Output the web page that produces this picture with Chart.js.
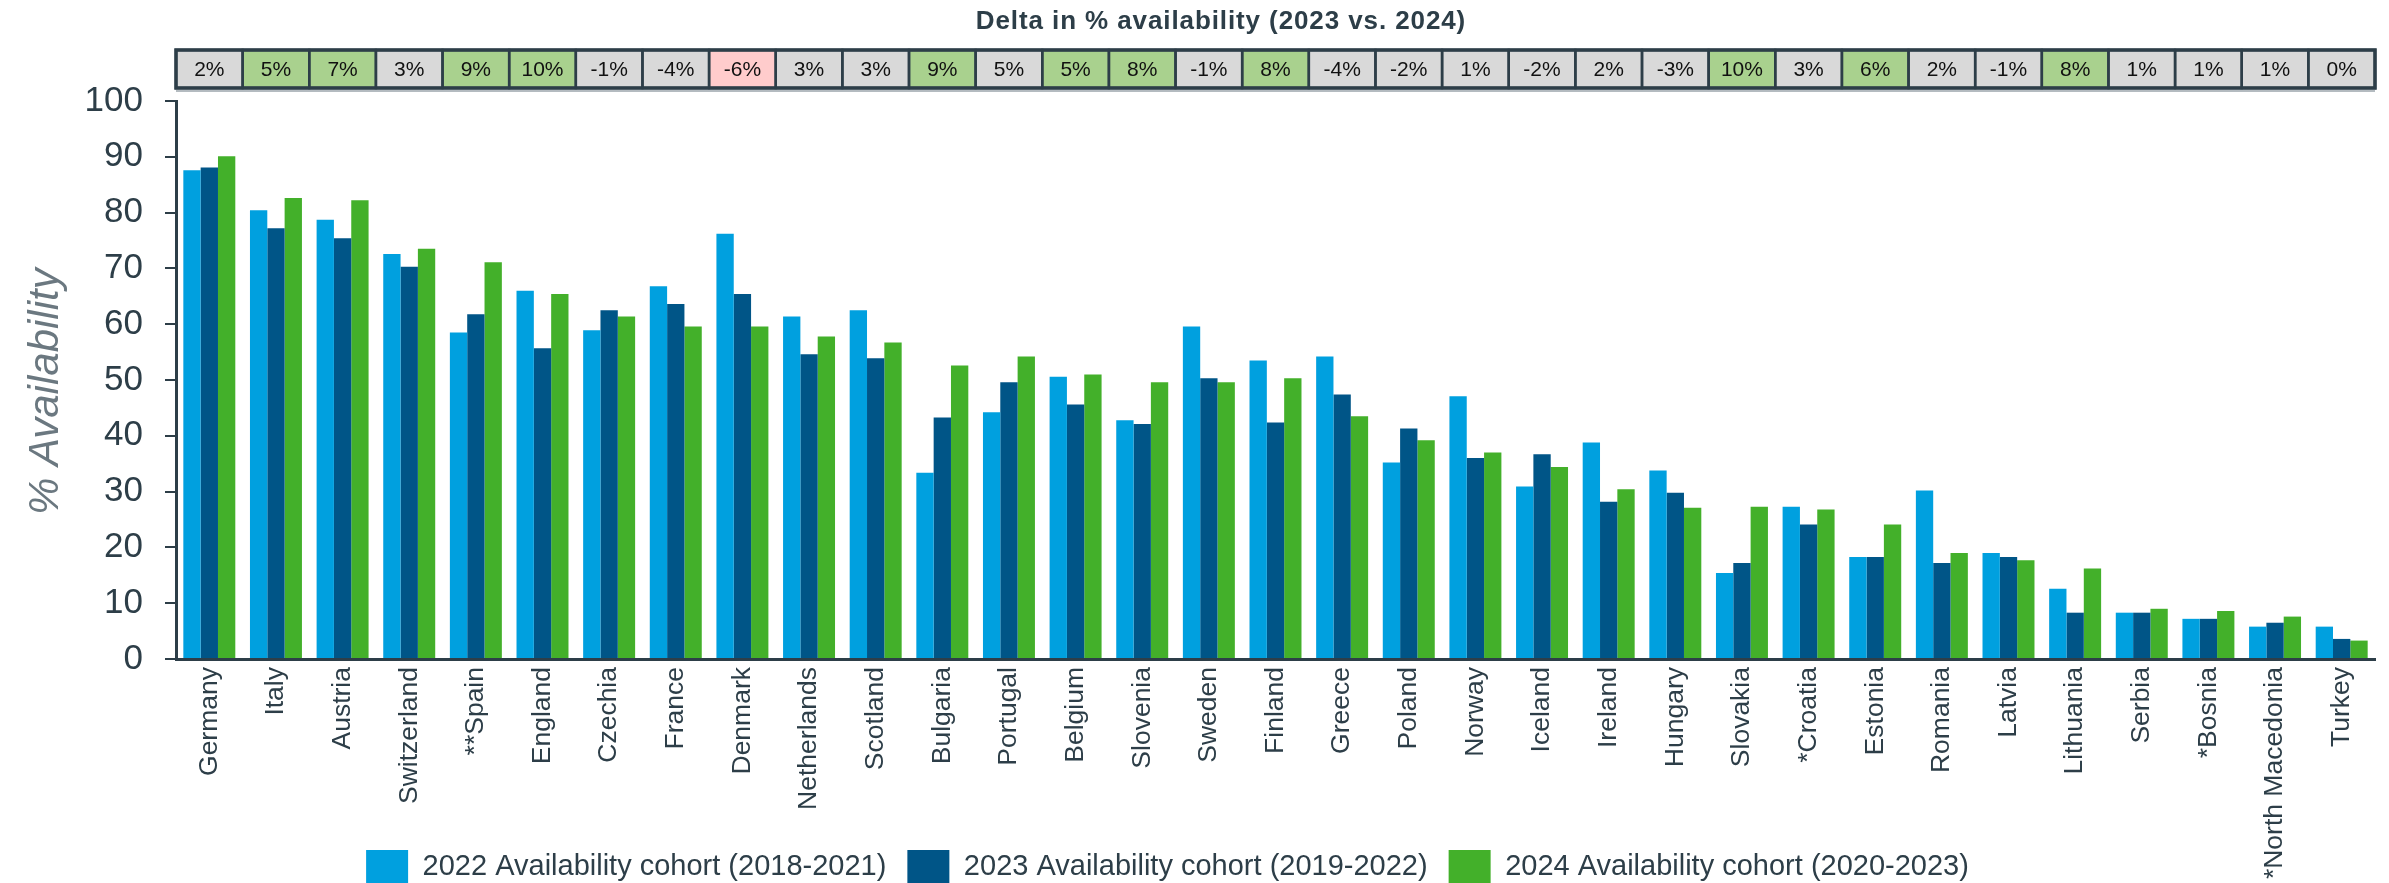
<!DOCTYPE html>
<html lang="en">
<head>
<meta charset="utf-8">
<title>% Availability by country</title>
<script src="https://cdn.jsdelivr.net/npm/chart.js@4.4.1/dist/chart.umd.min.js"></script>
<style>
html, body { margin: 0; padding: 0; background: #fff; overflow: hidden; }
#wrap { width: 2389px; height: 883px; overflow: hidden; }
canvas { display: block; }
</style>
</head>
<body>
<div id="wrap"><canvas id="availability" width="2389" height="947"></canvas></div>
<script>
"use strict";

var countries = [ "Germany", "Italy", "Austria", "Switzerland", "**Spain", "England", "Czechia", "France",
	"Denmark", "Netherlands", "Scotland", "Bulgaria", "Portugal", "Belgium", "Slovenia", "Sweden", "Finland",
	"Greece", "Poland", "Norway", "Iceland", "Ireland", "Hungary", "Slovakia", "*Croatia", "Estonia", "Romania",
	"Latvia", "Lithuania", "Serbia", "*Bosnia", "*North Macedonia", "Turkey" ];

var cohort2022 = [ 87.6, 80.4, 78.7, 72.6, 58.5, 66.0, 58.9, 66.8, 76.2, 61.4, 62.5, 33.4, 44.2, 50.6, 42.8, 59.6,
	53.5, 54.2, 35.2, 47.1, 30.9, 38.8, 33.8, 15.4, 27.3, 18.3, 30.2, 19.0, 12.6, 8.3, 7.2, 5.8, 5.8 ];
var cohort2023 = [ 88.1, 77.2, 75.4, 70.3, 61.8, 55.7, 62.5, 63.6, 65.4, 54.6, 53.9, 43.3, 49.6, 45.6, 42.1, 50.3,
	42.4, 47.4, 41.3, 36.0, 36.7, 28.2, 29.8, 17.2, 24.1, 18.3, 17.2, 18.3, 8.3, 8.3, 7.2, 6.5, 3.6 ];
var cohort2024 = [ 90.1, 82.6, 82.2, 73.5, 71.1, 65.4, 61.4, 59.6, 59.6, 57.8, 56.7, 52.6, 54.2, 51.0, 49.6, 49.6,
	50.3, 43.5, 39.2, 37.0, 34.4, 30.4, 27.1, 27.3, 26.8, 24.1, 19.0, 17.7, 16.2, 9.0, 8.6, 7.6, 3.3 ];

// delta row above the plot, in percentage points
var deltaValues = [ 2, 5, 7, 3, 9, 10, -1, -4, -6, 3, 3, 9, 5, 5, 8, -1, 8, -4, -2, 1, -2, 2, -3, 10, 3, 6, 2,
	-1, 8, 1, 1, 1, 0 ];
var deltaTitle = "Delta in % availability (2023 vs. 2024)";

var seriesLabels = [ "2022 Availability cohort (2018-2021)", "2023 Availability cohort (2019-2022)",
	"2024 Availability cohort (2020-2023)" ];
var yTicks = { min: 0, max: 100, step: 10 };

var fontFamily = "'Liberation Sans', Arial, Helvetica, sans-serif",
	textDark = "#2d3e48",
	seriesColors = [ "#00a0df", "#005587", "#43b02a" ];

var deltaRow = {
	id: "deltaRow",

	// the x axis is kept tall so long labels are not clipped; the legend is lifted back over its lower part
	afterLayout: function( chart ) {
		var lg = chart.legend,
			h = lg.height;

		lg.top = chart.chartArea.bottom + 170;
		lg.bottom = lg.top + h;
		lg.left -= 20;
		lg.right -= 20;
	},

	// heading and coloured delta cells, one per category
	afterDraw: function( chart ) {
		var ctx = chart.ctx,
			xs = chart.scales.x,
			step = xs.width / countries.length,
			top = 50,
			h = 38,
			i, left, diff;

		ctx.save();
		ctx.textAlign = "center";
		ctx.textBaseline = "middle";
		ctx.fillStyle = textDark;
		ctx.font = "bold 26px " + fontFamily;
		ctx.letterSpacing = "0.9px";
		ctx.fillText( deltaTitle, 1221, 22 );
		ctx.letterSpacing = "0px";

		for ( i = 0; i < countries.length; i++ ) {
			left = xs.getPixelForValue( i ) - step / 2;
			diff = cohort2024[ i ] - cohort2023[ i ];
			ctx.fillStyle = diff >= 5 ? "#a9d18e" : ( diff <= -5 ? "#ffcccc" : "#d9d9d9" );
			ctx.fillRect( left, top, step, h );
		}

		ctx.strokeStyle = textDark;
		ctx.lineWidth = 2.5;
		for ( i = 0; i < countries.length; i++ ) {
			left = xs.getPixelForValue( i ) - step / 2;
			ctx.strokeRect( left, top, step, h );
		}
		ctx.lineWidth = 3.5;
		ctx.strokeRect( xs.left, top, xs.width, h );

		// faint line under the row
		ctx.strokeStyle = "#b4bbc0";
		ctx.lineWidth = 2;
		ctx.beginPath();
		ctx.moveTo( xs.left, top + h + 3 );
		ctx.lineTo( xs.right, top + h + 3 );
		ctx.stroke();

		ctx.fillStyle = "#111";
		ctx.font = "21px " + fontFamily;
		for ( i = 0; i < countries.length; i++ ) {
			ctx.fillText( deltaValues[ i ] + "%", xs.getPixelForValue( i ), top + h / 2 + 1 );
		}
		ctx.restore();
	}
};

var datasets = [ cohort2022, cohort2023, cohort2024 ].map( function( values, idx ) {
	return {
		label: seriesLabels[ idx ],
		data: values,
		backgroundColor: seriesColors[ idx ],
		borderWidth: 0,
		categoryPercentage: 0.78,
		barPercentage: 1.0
	};
} );

new Chart( document.getElementById( "availability" ), {
	type: "bar",
	data: { labels: countries, datasets: datasets },
	plugins: [ deltaRow ],
	options: {
		responsive: false,
		devicePixelRatio: 1,
		animation: false,
		layout: { padding: { top: 101, right: 14, left: 0, bottom: 0 } },
		plugins: {
			tooltip: { enabled: false },
			title: { display: false },
			legend: {
				position: "bottom",
				labels: {
					boxWidth: 42,
					boxHeight: 33,
					padding: 21,
					color: textDark,
					font: { family: fontFamily, size: 29 }
				}
			}
		},
		scales: {
			x: {
				grid: { display: false, drawTicks: false },
				border: { display: true, color: textDark, width: 3 },
				ticks: {
					autoSkip: false,
					minRotation: 90,
					maxRotation: 90,
					padding: 8,
					color: textDark,
					font: { family: fontFamily, size: 26.5 }
				},
				afterFit: function( scale ) {
					scale.height = 224;
				}
			},
			y: {
				min: yTicks.min,
				max: yTicks.max,
				grid: {
					drawOnChartArea: false,
					drawTicks: true,
					tickLength: 11,
					color: textDark,
					lineWidth: 2
				},
				border: { display: true, color: textDark, width: 3 },
				ticks: {
					stepSize: yTicks.step,
					padding: 22,
					color: textDark,
					font: { family: fontFamily, size: 35 }
				},
				title: {
					display: true,
					text: "% Availability  ",
					color: "#6b7880",
					padding: { top: 21, bottom: 0 },
					font: { family: fontFamily, size: 42, style: "italic" }
				},
				afterFit: function( scale ) {
					scale.width = 176;
				}
			}
		}
	}
} );
</script>
</body>
</html>
